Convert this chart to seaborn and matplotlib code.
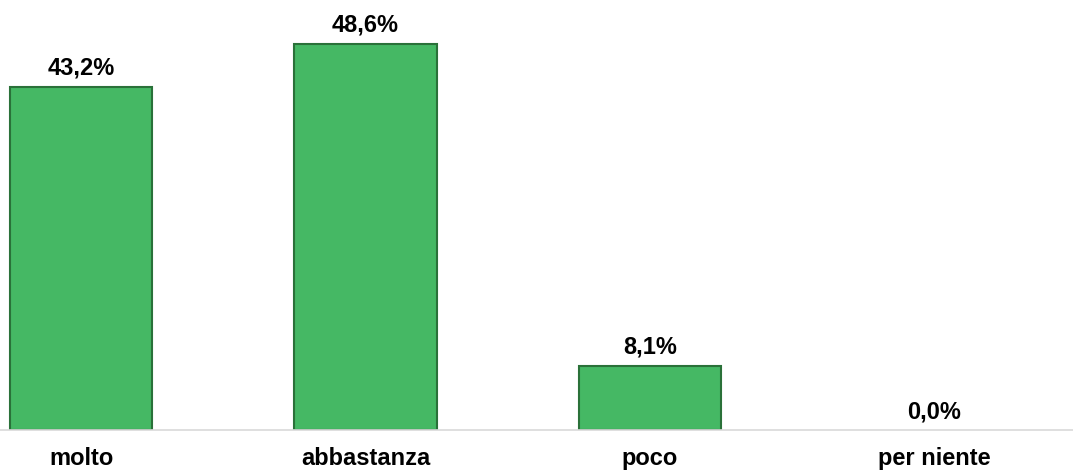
import matplotlib
matplotlib.use("Agg")
import matplotlib.pyplot as plt
import seaborn as sns
import pandas as pd

categories = ["molto", "abbastanza", "poco", "per niente"]
values = [43.2, 48.6, 8.1, 0.0]
value_labels = ["43,2%", "48,6%", "8,1%", "0,0%"]

sns.set_theme(style="white")
plt.rcParams["font.family"] = ["Liberation Sans", "DejaVu Sans"]

df = pd.DataFrame({"cat": categories, "val": values})

fig = plt.figure(figsize=(10.73, 4.70), dpi=100)
ax = fig.add_axes([0, 40 / 470, 1, 430 / 470])

sns.barplot(data=df, x="cat", y="val", ax=ax, color="#45B864", width=0.5,
            saturation=1, edgecolor="#2A7139", linewidth=1.5)
# no outline on empty bars
for bar in ax.containers[0]:
    if bar.get_height() == 0:
        bar.set_linewidth(0)

ax.bar_label(ax.containers[0], labels=value_labels, padding=5,
             fontsize=17, fontweight="bold", color="black")

ax.set_xlim(-0.285, 3.487)
ax.set_ylim(0, 54.1)
ax.set_xlabel("")
ax.set_ylabel("")
ax.set_yticks([])
ax.tick_params(axis="x", length=0, pad=12, labelsize=17)
for lbl in ax.get_xticklabels():
    lbl.set_fontweight("bold")
    lbl.set_color("black")

for side in ["top", "left", "right"]:
    ax.spines[side].set_visible(False)
ax.spines["bottom"].set_color("#D9D9D9")
ax.spines["bottom"].set_linewidth(1.2)

fig.savefig("out.png", dpi=100)
